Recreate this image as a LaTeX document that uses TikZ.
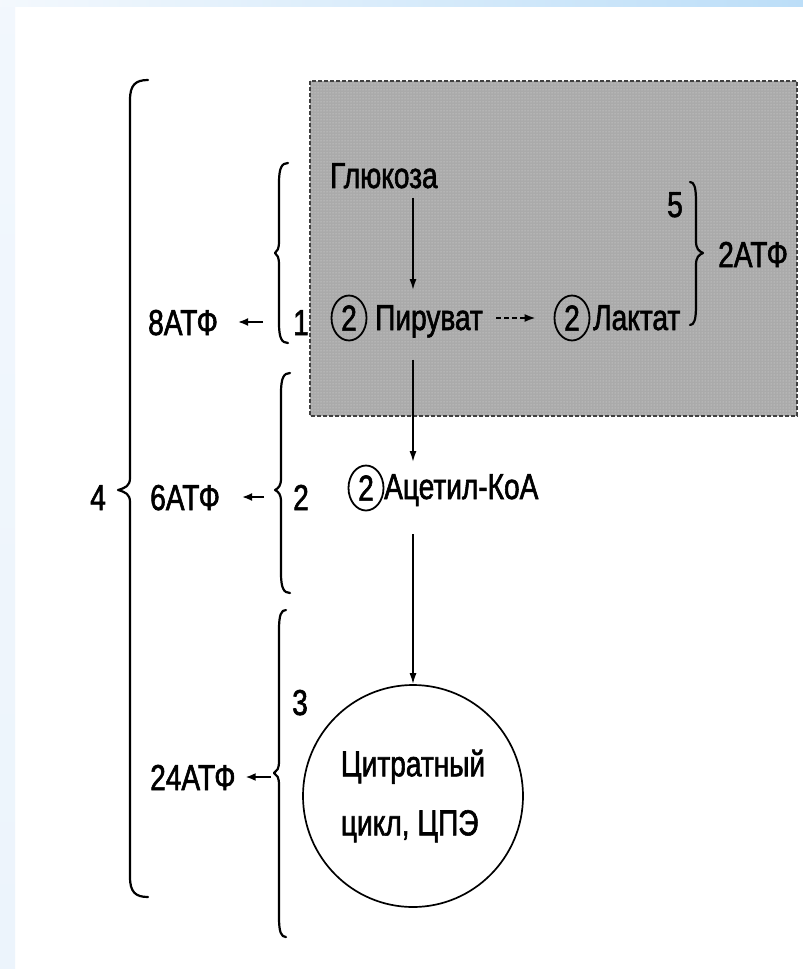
\documentclass[tikz,border=0pt]{standalone}
\usepackage{fontspec}
\setmainfont{Liberation Sans}[FakeStretch=0.78, FakeBold=1.6]
\usetikzlibrary{arrows.meta,patterns,shapes.geometric}
\definecolor{boxgray}{RGB}{170,170,170}
\definecolor{dotwhite}{RGB}{220,220,220}
\definecolor{stripblue}{RGB}{236,244,252}
\definecolor{topblue}{RGB}{188,222,248}
\begin{document}
\begin{tikzpicture}[x=1pt,y=-1pt,
  txt/.style={font=\fontsize{36}{40}\selectfont, inner sep=0pt, anchor=base west},
  num/.style={ellipse, draw, line width=1.8pt, minimum width=35pt, minimum height=45pt, inner sep=0pt, font=\fontsize{36}{40}\selectfont},
  arr/.style={line width=1.6pt, -{Latex[length=11pt,width=7pt]}},
  darr/.style={line width=1.8pt, dash pattern=on 5pt off 3pt, -{Latex[length=11pt,width=8pt]}},
  brline/.style={line width=2.2pt, line cap=round, line join=round},
]
\useasboundingbox (0,0) rectangle (803,969);
\fill[white] (0,0) rectangle (803,969);
\shade[top color=stripblue!70, bottom color=stripblue] (0,0) rectangle (15,969);
\shade[left color=stripblue!60, right color=topblue] (0,0) rectangle (803,6);

% gray area
\fill[boxgray] (310,81) rectangle (797,416);
\fill[pattern=dots, pattern color=dotwhite] (310,81) rectangle (797,416);
\draw[black!75, line width=1.5pt, dash pattern=on 4pt off 2pt] (310,81) rectangle (797,416);

% axis for vertical arrows
\coordinate (ax) at (413,0);

% texts
\node[txt] (gluc) at (330,188) {Глюкоза};
\node[num] (p2) at (349,318) {2};
\node[txt] (piruvat) at (375,330) {Пируват};
\node[num] (l2) at (572,318) {2};
\node[txt] (laktat) at (593,330) {Лактат};
\node[num] (a2) at (366,488) {2};
\node[txt] (acetyl) at (384,499) {Ацетил-КоА};
\node[ellipse, draw, line width=1.7pt, minimum width=220pt, minimum height=222pt,
      align=left, inner sep=0pt, font=\fontsize{36}{59}\selectfont] (cycle) at (413,796)
      {Цитратный\\цикл, ЦПЭ};

\node[txt] (five) at (667,217) {5};
\node[txt] (atp2) at (718,267) {2АТФ};
\node[txt] (atp8) at (148,335) {8АТФ};
\node[txt] (one) at (293,335) {1};
\node[txt] (atp6) at (150,510) {6АТФ};
\node[txt] (two) at (293,510) {2};
\node[txt] (four) at (90,510) {4};
\node[txt] (atp24) at (150,790) {24АТФ};
\node[txt] (three) at (292,715) {3};

% main arrows
\draw[arr, shorten <=9pt, shorten >=15pt] (gluc.south -| ax) -- (piruvat.north -| ax);
\draw[darr, shorten <=13pt, shorten >=18pt] (piruvat.east |- p2) -- (l2.west);
\draw[arr, shorten <=22pt, shorten >=12pt] (piruvat.south -| ax) -- (acetyl.north -| ax);
\draw[arr, shorten <=28pt] (acetyl.south -| ax) -- (cycle.north);

% left arrows
\coordinate (c1) at (263,322);
\coordinate (c2) at (264,497);
\coordinate (c3) at (271,777);
\draw[arr, -{Latex[length=10pt,width=8pt]}] (c1) -- ([xshift=20pt]atp8.east |- c1);
\draw[arr, -{Latex[length=10pt,width=8pt]}] (c2) -- ([xshift=22pt]atp6.east |- c2);
\draw[arr, -{Latex[length=10pt,width=8pt]}] (c3) -- ([xshift=10pt]atp24.east |- c3);

% braces: body x / top / bottom / tip y / end curl / tip depth
\foreach \X/\T/\B/\M/\e/\t in {279/163/343/253/9/4, 281/373/593/490/9/6,
    279/610/937/773/7/5, 130/80/897/490/18/12, 696/182/325/253/-6/-7}
  \draw[brline] (\X+\e,\T) .. controls (\X+0.3*\e,\T) and (\X,\T+5) .. (\X,\T+20)
    -- (\X,\M-12) .. controls (\X,\M-4) and (\X-0.4*\t,\M-2) .. (\X-\t,\M)
    .. controls (\X-0.4*\t,\M+2) and (\X,\M+4) .. (\X,\M+12)
    -- (\X,\B-20) .. controls (\X,\B-5) and (\X+0.3*\e,\B) .. (\X+\e,\B);
\end{tikzpicture}
\end{document}
